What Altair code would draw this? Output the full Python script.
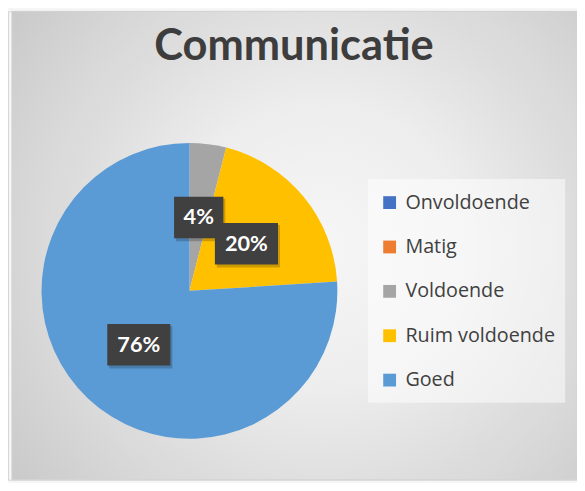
import altair as alt
import pandas as pd

# ---- data ----
categories = ["Onvoldoende", "Matig", "Voldoende", "Ruim voldoende", "Goed"]
values = [0, 0, 4, 20, 76]
colors = ["#4472C4", "#ED7D31", "#A5A5A5", "#FFC000", "#5B9BD5"]
title_text = "Communicatie"

df = pd.DataFrame({"category": categories, "value": values, "idx": list(range(len(categories)))})

# ---- layout ----
W, H = 577, 475
CX, CY, R = 184, 283.5, 150
LR = 75  # label radius

bg_grad = alt.RadialGradient(
    gradient="radial",
    stops=[alt.GradientStop(offset=0, color="#FFFFFF"),
           alt.GradientStop(offset=0.3, color="#F6F6F6"),
           alt.GradientStop(offset=1, color="#C4C4C4")],
    x1=0.55, y1=0.5, r1=0, x2=0.55, y2=0.5, r2=0.85,
)

base_one = alt.Chart(pd.DataFrame({"a": [0]}))

background = base_one.mark_rect(fill=bg_grad, stroke="#DADADA", strokeWidth=1).encode(
    x=alt.value(4), x2=alt.value(W), y=alt.value(0), y2=alt.value(H)
)

title = base_one.mark_text(
    text=title_text, font="Lato", fontWeight="bold", fontSize=44, color="#404040",
    align="center", baseline="alphabetic"
).encode(x=alt.value(290), y=alt.value(49))

shadow = alt.Chart(pd.DataFrame({"r": [151, 154, 157, 160, 163]})).mark_arc(
    theta=0, theta2=6.2832, color="#000000", opacity=0.035
).encode(
    radius=alt.Radius("r:Q", scale=None),
    x=alt.value(CX + 1), y=alt.value(CY + 5),
)

legend_box = base_one.mark_rect(fill="#FFFFFF", opacity=0.5).encode(
    x=alt.value(365), x2=alt.value(565), y=alt.value(170), y2=alt.value(397)
)

pie = alt.Chart(df).mark_arc(radius=R, stroke=None).encode(
    theta=alt.Theta("value:Q", stack=True),
    color=alt.Color(
        "category:N",
        sort=categories,
        scale=alt.Scale(domain=categories, range=colors),
        legend=alt.Legend(
            title=None, orient="none", legendX=377, legendY=184,
            symbolType="square", symbolSize=169, symbolStrokeWidth=0,
            labelFont="Open Sans", labelFontSize=20, labelColor="#404040",
            labelOffset=6, rowPadding=25, padding=0, labelLimit=300,
        ),
    ),
    order=alt.Order("idx:Q"),
    x=alt.value(CX), y=alt.value(CY),
)

lab = (
    alt.Chart(df)
    .transform_joinaggregate(total="sum(value)")
    .transform_window(cum="sum(value)", sort=[alt.SortField("idx", order="ascending")], frame=[None, 0])
    .transform_filter("datum.value > 0")
    .transform_calculate(
        mid="(datum.cum - datum.value / 2) / datum.total * 2 * PI",
        label="format(datum.value / datum.total, '.0%')",
    )
    .transform_calculate(
        px=f"{CX} + {LR} * sin(datum.mid)",
        py=f"{CY} - {LR} * cos(datum.mid)",
        hw="(14 * length(datum.label) + 22) / 2",
    )
    .transform_calculate(
        bx1="datum.px - datum.hw", bx2="datum.px + datum.hw",
        by1="datum.py - 21", by2="datum.py + 21",
        sx1="datum.px - datum.hw + 2", sx2="datum.px + datum.hw + 2",
        sy1="datum.py - 19", sy2="datum.py + 24",
    )
)

box_shadow = lab.mark_rect(color="#000000", opacity=0.2).encode(
    x=alt.X("sx1:Q", scale=None), x2="sx2:Q",
    y=alt.Y("sy1:Q", scale=None), y2="sy2:Q",
)
boxes = lab.mark_rect(color="#404040").encode(
    x=alt.X("bx1:Q", scale=None), x2="bx2:Q",
    y=alt.Y("by1:Q", scale=None), y2="by2:Q",
)
texts = lab.mark_text(
    font="Lato", fontWeight="bold", fontSize=22, color="#FFFFFF",
    align="center", baseline="middle"
).encode(
    x=alt.X("px:Q", scale=None), y=alt.Y("py:Q", scale=None), text="label:N"
)

chart = alt.layer(
    background, title, shadow, legend_box, pie, box_shadow, boxes, texts
).properties(
    width=W, height=H,
    autosize=alt.AutoSizeParams(type="none"),
    padding=0,
).configure_view(stroke=None).configure(background="#FFFFFF")

chart.save("out.html", embed_options={"renderer": "svg", "actions": False})
